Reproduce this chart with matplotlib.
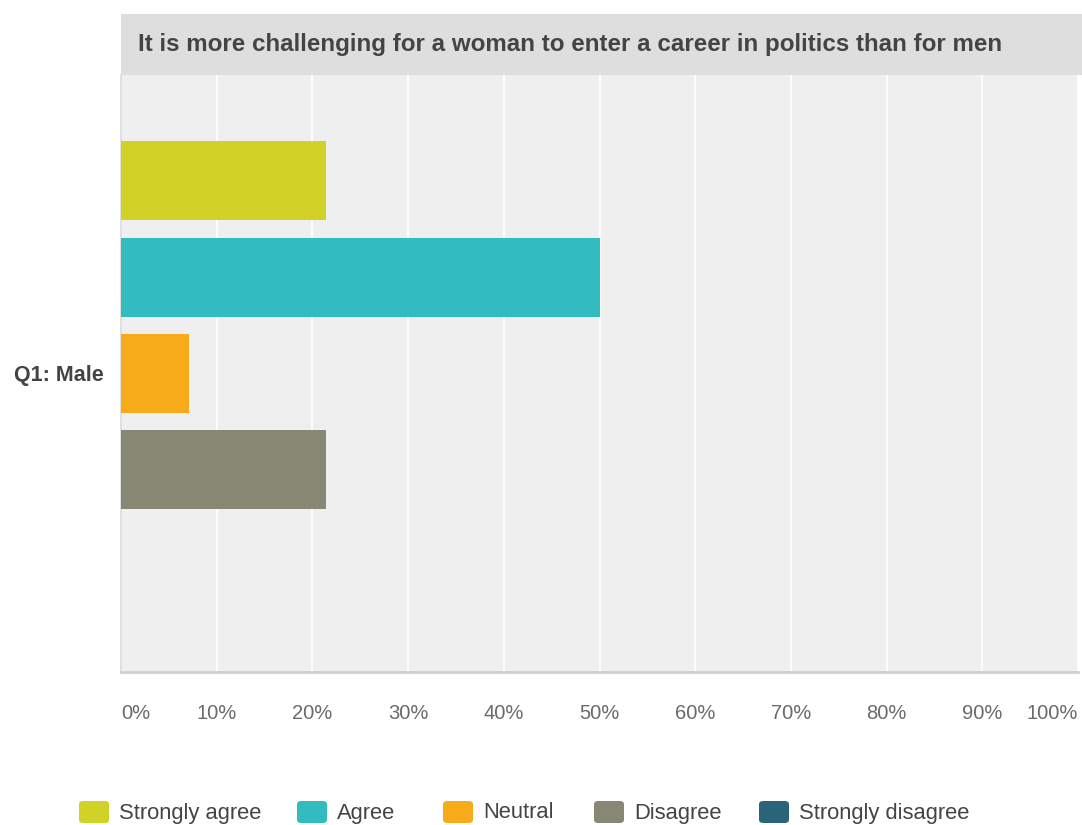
import matplotlib
matplotlib.use("Agg")
import matplotlib.pyplot as plt
from matplotlib.patches import Rectangle, FancyBboxPatch

plt.rcParams['font.family'] = ['Liberation Sans', 'DejaVu Sans']

title = "It is more challenging for a woman to enter a career in politics than for men"
group = "Q1: Male"
answers = ["Strongly agree", "Agree", "Neutral", "Disagree", "Strongly disagree"]
shares = [21.43, 50.00, 7.14, 21.43, 0.0]
colors = ["#d0d228", "#33bcbf", "#f7ab1b", "#868873", "#2a6478"]
x_ticks = [0, 10, 20, 30, 40, 50, 60, 70, 80, 90, 100]
x_tick_labels = [f"{t}%" for t in x_ticks]

W, H = 1082, 825
fig = plt.figure(figsize=(W / 100, H / 100), dpi=100)
fig.patch.set_facecolor("white")

# plot area in pixel terms
left, right, top, bottom = 121, 1078, 75, 672
ax = fig.add_axes([left / W, 1 - bottom / H, (right - left) / W, (bottom - top) / H])
ax.set_facecolor("#efefef")

# title band above the plot area
band = Rectangle((left / W, 1 - top / H), (W - left) / W, (top - 14) / H,
                 transform=fig.transFigure, facecolor="#dedede", edgecolor="none")
fig.patches.append(band)
fig.text(138 / W, 1 - 44 / H, title, fontsize=17.4, fontweight="bold",
         color="#444444", va="center", ha="left")

n = len(answers)
positions = [i - (n - 1) / 2 for i in range(n)]
ax.barh(positions, shares, height=0.82, color=colors, zorder=3)
ax.set_ylim(3.1, -3.1)
ax.set_xlim(0, 100)

ax.set_xticks(x_ticks)
ax.set_xticklabels(x_tick_labels, fontsize=14.5, color="#6a6a6a")
ax.tick_params(axis="x", length=0, pad=23)
labels = ax.get_xticklabels()
labels[0].set_horizontalalignment("left")
labels[-1].set_horizontalalignment("right")

ax.set_yticks([0])
ax.set_yticklabels([group], fontsize=15.5, fontweight="bold", color="#444444")
ax.tick_params(axis="y", length=0, pad=12.5)

ax.grid(axis="x", color="white", linewidth=1.2, zorder=1)
ax.set_axisbelow(True)
for side in ["top", "right"]:
    ax.spines[side].set_visible(False)
ax.spines["bottom"].set_color("#cfcfcf")
ax.spines["bottom"].set_linewidth(2)
ax.spines["left"].set_color("#dadada")
ax.spines["left"].set_linewidth(1.2)

# legend row
legend_x = [79, 297, 443, 594, 759]
ly = 812
for x0, lab, col in zip(legend_x, answers, colors):
    box = FancyBboxPatch((x0 / W, 1 - (ly + 11) / H), 30 / W, 22 / H,
                         boxstyle="round,pad=0,rounding_size=0.004",
                         transform=fig.transFigure, facecolor=col, edgecolor="none")
    fig.patches.append(box)
    fig.text((x0 + 40) / W, 1 - (ly + 1) / H, lab, fontsize=15.8, color="#444444",
             va="center", ha="left")

fig.savefig("out.png", dpi=100)
